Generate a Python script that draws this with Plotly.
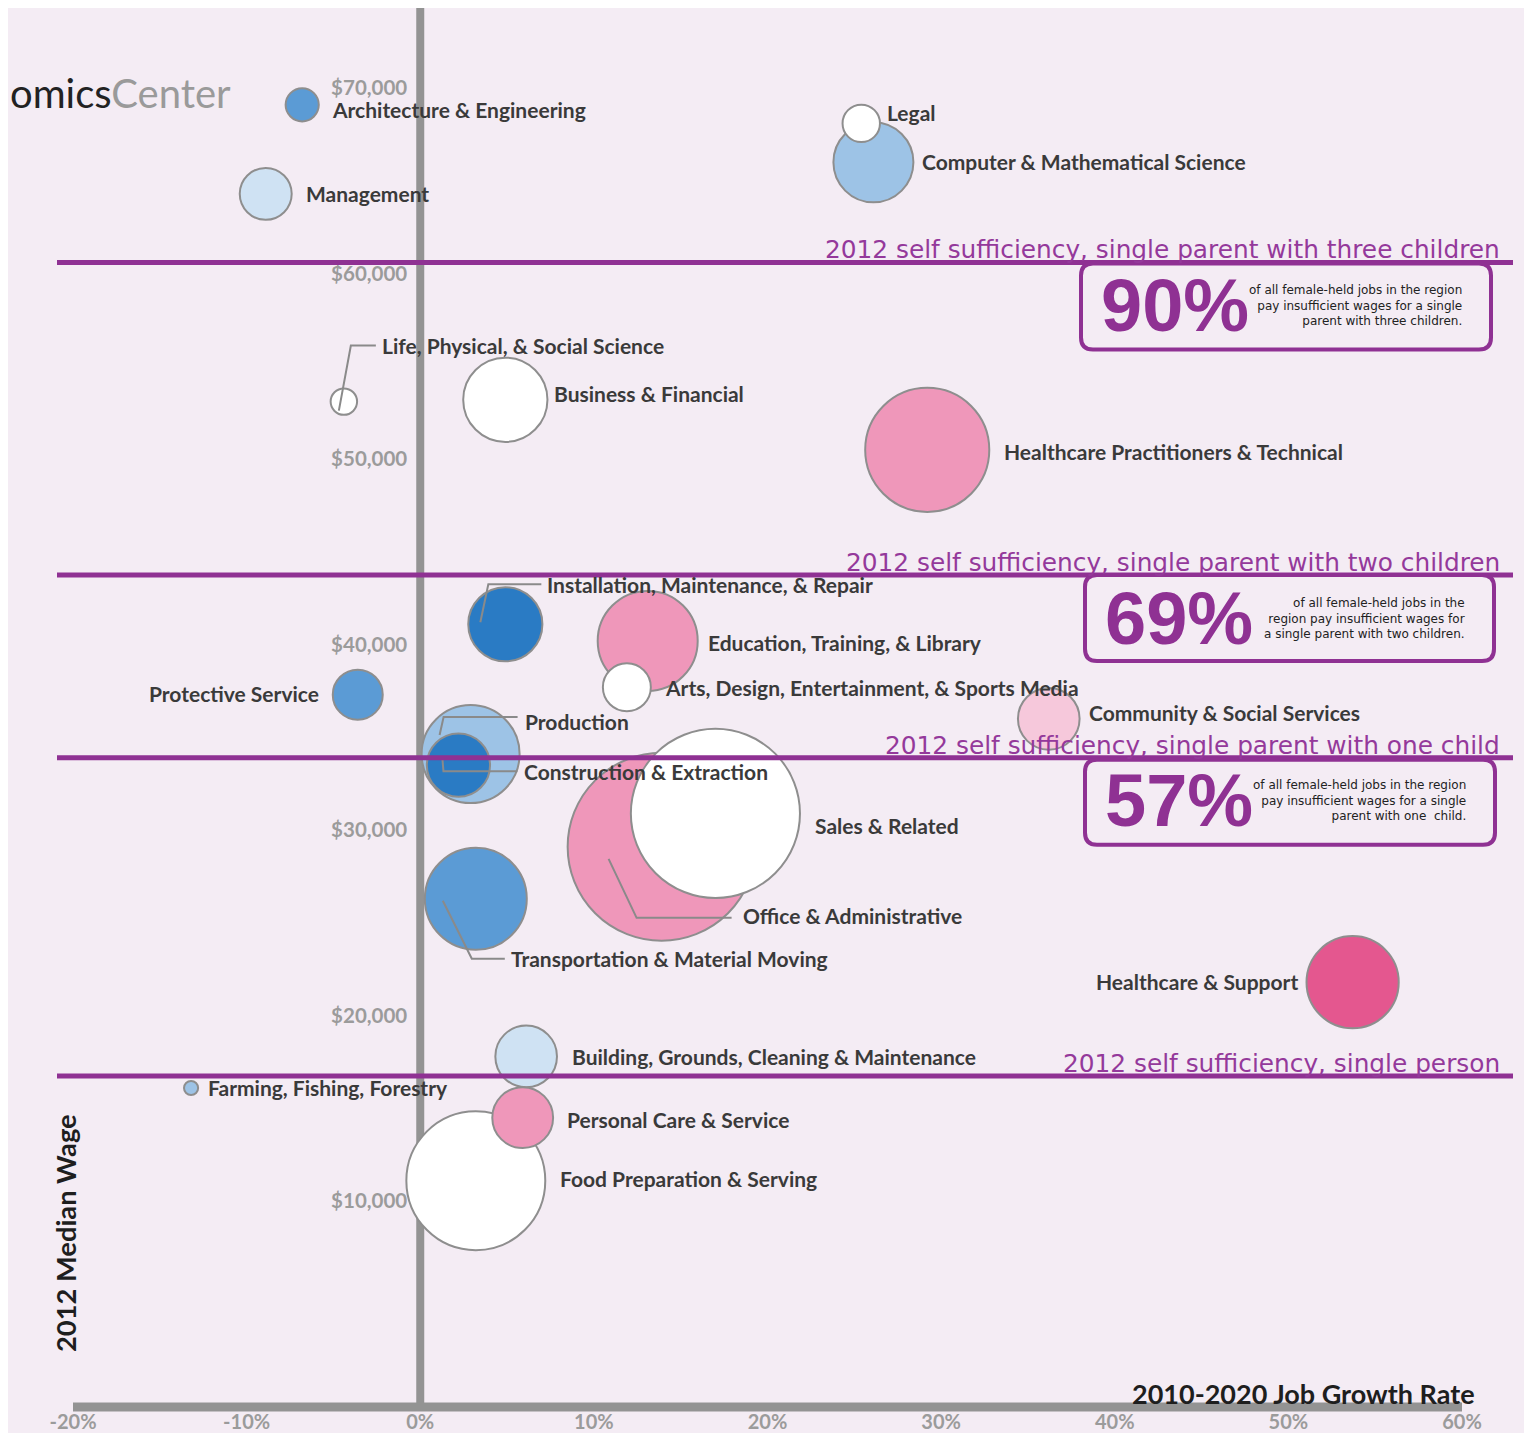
import plotly.graph_objects as go

# ---------------- data ----------------
occupations = [
    "Architecture & Engineering", "Management", "Computer & Mathematical Science", "Legal",
    "Life, Physical, & Social Science", "Business & Financial", "Healthcare Practitioners & Technical",
    "Installation, Maintenance, & Repair", "Education, Training, & Library",
    "Arts, Design, Entertainment, & Sports Media", "Protective Service", "Community & Social Services",
    "Production", "Construction & Extraction", "Office & Administrative", "Sales & Related",
    "Transportation & Material Moving", "Healthcare & Support", "Building, Grounds, Cleaning & Maintenance",
    "Farming, Fishing, Forestry", "Food Preparation & Serving", "Personal Care & Service",
]
job_growth_pct = [-6.8, -8.9, 26.1, 25.4, -4.4, 4.9, 29.2, 4.9, 13.1, 11.9, -3.6, 36.2,
                  2.9, 2.2, 13.9, 17.0, 3.2, 53.7, 6.1, -13.2, 3.2, 5.9]
median_wage = [69100, 64300, 66000, 68100, 53100, 53200, 50500, 41100, 40200, 37700, 37300, 36000,
               34100, 33500, 29100, 30900, 26300, 21800, 17800, 16100, 11100, 14500]
female_jobs = [1100, 2700, 6400, 1400, 700, 7100, 15400, 5500, 10000, 2300, 2500, 3800,
               9600, 4000, 35300, 28600, 10400, 8500, 3800, 200, 19300, 3700]
gender_mix = ["male", "slightly male", "mostly male", "balanced", "balanced", "balanced", "female",
              "strongly male", "female", "balanced", "male", "slightly female",
              "mostly male", "strongly male", "female", "balanced", "male", "strongly female",
              "slightly male", "mostly male", "balanced", "female"]

threshold_wage = [60600, 43750, 33900, 16750]
threshold_label = ["2012 self sufficiency, single parent with three children",
                   "2012 self sufficiency, single parent with two children",
                   "2012 self sufficiency, single parent with one child",
                   "2012 self sufficiency, single person"]
pct_insufficient = [90, 69, 57]
pct_text = [
    "of all female-held jobs in the region<br>pay insufficient wages for a single<br>parent with three children.",
    "of all female-held jobs in the<br>region pay insufficient wages for<br>a single parent with two children.",
    "of all female-held jobs in the region<br>pay insufficient wages for a single<br>parent with one  child.",
]

x_ticks = [-20, -10, 0, 10, 20, 30, 40, 50, 60]
y_ticks = [10000, 20000, 30000, 40000, 50000, 60000, 70000]

# ---------------- styles ----------------
BG = "#f4ecf4"
PURPLE = "#8f3193"
GRAY_LINE = "#939393"
LABEL = "#3a3a3a"
TICK = "#9b9b9b"
mix_colors = {
    "strongly male": "#2a7bc4", "male": "#5b9bd5", "mostly male": "#9dc3e6",
    "slightly male": "#cfe2f3", "balanced": "#ffffff", "slightly female": "#f6c8db",
    "female": "#ef97ba", "strongly female": "#e4578f",
}
# label offsets in px (dx, dy upward, anchor)
label_pos = {
    "Architecture & Engineering": (28, -5, "left"), "Management": (38, 0, "left"),
    "Computer & Mathematical Science": (47, 1, "left"), "Legal": (24, 11, "left"),
    "Life, Physical, & Social Science": (36, 56, "left"), "Business & Financial": (47, 6, "left"),
    "Healthcare Practitioners & Technical": (75, -2, "left"),
    "Installation, Maintenance, & Repair": (40, 40, "left"),
    "Education, Training, & Library": (58, -2, "left"),
    "Arts, Design, Entertainment, & Sports Media": (36, 0, "left"),
    "Protective Service": (-37, 1, "right"), "Community & Social Services": (38, 6, "left"),
    "Production": (52, 33, "left"), "Construction & Extraction": (64, -6, "left"),
    "Office & Administrative": (79, -69, "left"), "Sales & Related": (98, -12, "left"),
    "Transportation & Material Moving": (33, -60, "left"), "Healthcare & Support": (-53, 1, "right"),
    "Building, Grounds, Cleaning & Maintenance": (44, 0, "left"),
    "Farming, Fishing, Forestry": (15, 0, "left"), "Food Preparation & Serving": (82, 2, "left"),
    "Personal Care & Service": (42, -2, "left"),
}
leaders = {
    "Life, Physical, & Social Science": [(-5, -9), (7, 56), (32, 56)],
    "Installation, Maintenance, & Repair": [(-25, 2), (-17, 40), (36, 40)],
    "Production": [(-31, 19), (-27, 37), (47, 37)],
    "Construction & Extraction": [(-16, 6), (-15, -6), (59, -6)],
    "Office & Administrative": [(-53, -12), (-25, -71), (70, -71)],
    "Transportation & Material Moving": [(-33, -2), (-4, -60), (29, -60)],
}
# boxes relative to right plot edge / threshold line (px)
box_geom = [(-381, 29, -1, -87), (-377, 32, 0, -86), (-377, 33, -2, -87)]

OFF = 8  # page body margin
W, H = 1532 - OFF, 1437 - OFF
ML, MR, MT, MB = 73 - OFF, 70, 8 - OFF, 30
PW, PH = W - ML - MR, H - MT - MB


def px2paper_x(px):
    return (px - OFF - ML) / PW


def px2paper_y(py):
    return (H - MB - (py - OFF)) / PH


fig = go.Figure()
fig.add_trace(go.Scatter(
    x=job_growth_pct, y=median_wage, mode="markers", text=occupations,
    marker=dict(size=female_jobs, sizemode="area", sizeref=2, sizemin=2,
                color=[mix_colors[g] for g in gender_mix],
                line=dict(color="#8e8e8e", width=2), opacity=1),
    hovertemplate="%{text}<br>%{x}%<br>$%{y:,}<extra></extra>",
    showlegend=False,
))

shapes = []
annotations = []

# background panel (white frame around)
shapes.append(dict(type="rect", xref="paper", yref="paper", layer="below",
                   x0=px2paper_x(6), x1=px2paper_x(1527), y0=px2paper_y(1433), y1=px2paper_y(7),
                   fillcolor=BG, line=dict(width=0)))
# axis lines
shapes.append(dict(type="line", xref="x", yref="paper", x0=0, x1=0, y0=0, y1=1, layer="below",
                   line=dict(color=GRAY_LINE, width=8)))
shapes.append(dict(type="line", xref="x", yref="paper", x0=x_ticks[0], x1=x_ticks[-1], y0=0, y1=0,
                   layer="above", line=dict(color=GRAY_LINE, width=9)))

# leader lines
for name, pts in leaders.items():
    i = occupations.index(name)
    path = "M " + " L ".join(f"{dx},{dy}" for dx, dy in pts)
    shapes.append(dict(type="path", xref="x", yref="y", xsizemode="pixel", ysizemode="pixel",
                       xanchor=job_growth_pct[i], yanchor=median_wage[i], path=path, layer="above",
                       line=dict(color="#8a8a8a", width=2)))

# occupation labels
for i, name in enumerate(occupations):
    dx, dy, anc = label_pos[name]
    annotations.append(dict(x=job_growth_pct[i], y=median_wage[i], xref="x", yref="y", text=f"<b>{name}</b>",
                            showarrow=False, xanchor=anc, yanchor="middle", xshift=dx, yshift=dy,
                            font=dict(family="Lato", size=21, color=LABEL)))

# self sufficiency lines + labels
for k, (val, lab) in enumerate(zip(threshold_wage, threshold_label)):
    shapes.append(dict(type="line", xref="paper", yref="y", x0=px2paper_x(57), x1=px2paper_x(1513),
                       y0=val, y1=val, layer="above", line=dict(color=PURPLE, width=5)))
    annotations.append(dict(x=1, xref="paper", y=val, yref="y", text=lab, showarrow=False,
                            xanchor="right", yanchor="bottom", xshift=40, yshift=-4,
                            font=dict(family="DejaVu Sans", size=24.8, color="#94399b")))


def rounded(x0, x1, yt, yb, r=12):
    return (f"M {x0 + r},{yt} L {x1 - r},{yt} Q {x1},{yt} {x1},{yt - r} L {x1},{yb + r} "
            f"Q {x1},{yb} {x1 - r},{yb} L {x0 + r},{yb} Q {x0},{yb} {x0},{yb + r} "
            f"L {x0},{yt - r} Q {x0},{yt} {x0 + r},{yt} Z")


for k, pct in enumerate(pct_insufficient):
    val = threshold_wage[k]
    x0, x1, yt, yb = box_geom[k]
    shapes.append(dict(type="path", xref="paper", yref="y", xsizemode="pixel", ysizemode="pixel",
                       xanchor=1, yanchor=val, path=rounded(x0, x1, yt, yb), layer="above",
                       fillcolor=BG, line=dict(color=PURPLE, width=4)))
    annotations.append(dict(x=1, xref="paper", y=val, yref="y", text=f"<b>{pct}%</b>", showarrow=False,
                            xanchor="left", yanchor="middle", xshift=x0 + 18, yshift=-43,
                            font=dict(family="Liberation Sans", size=74, color=PURPLE)))
    annotations.append(dict(x=1, xref="paper", y=val, yref="y", text=pct_text[k], showarrow=False,
                            xanchor="right", yanchor="middle", align="right", xshift=x1 - 27, yshift=-43,
                            font=dict(family="DejaVu Sans", size=12, color="#222222")))

# axis titles
annotations.append(dict(x=px2paper_x(1477), y=px2paper_y(1393), xref="paper", yref="paper",
                        text="<b>2010-2020 Job Growth Rate</b>", showarrow=False, xanchor="right",
                        yanchor="middle", font=dict(family="Lato", size=27, color="#1e1e1e")))
annotations.append(dict(x=px2paper_x(65), y=px2paper_y(1233), xref="paper", yref="paper",
                        text="<b>2012 Median Wage</b>", showarrow=False, textangle=-90,
                        xanchor="center", yanchor="middle", font=dict(family="Lato", size=27.3, color="#1e1e1e")))
# logo fragment
annotations.append(dict(x=px2paper_x(8), y=px2paper_y(93), xref="paper", yref="paper",
                        text="<span style='color:#222222'>omics</span><span style='color:#9a9a9a'>Center</span>",
                        showarrow=False, xanchor="left", yanchor="middle",
                        font=dict(family="Lato", size=40)))

fig.update_layout(
    width=W, height=H, autosize=False,
    margin=dict(l=ML, r=MR, t=MT, b=MB, pad=0),
    paper_bgcolor="#ffffff", plot_bgcolor="rgba(0,0,0,0)",
    shapes=shapes, annotations=annotations,
    xaxis=dict(range=[-20, 60], tickvals=x_ticks, ticktext=[f"{v}%" for v in x_ticks],
               showgrid=False, zeroline=False, showline=False, ticks="", ticklabelstandoff=1,
               tickfont=dict(family="Lato", size=20, color=TICK, weight="bold"), fixedrange=True),
    yaxis=dict(range=[-1100, 74320], tickvals=y_ticks, ticktext=[f"${v:,}" for v in y_ticks],
               anchor="free", position=(0 - (-20)) / 80, side="left", layer="below traces",
               showgrid=False, zeroline=False, showline=False, ticks="", ticklabelstandoff=13,
               tickfont=dict(family="Lato", size=20.5, color=TICK, weight="bold"), fixedrange=True),
)

fig.write_html("out.html")
